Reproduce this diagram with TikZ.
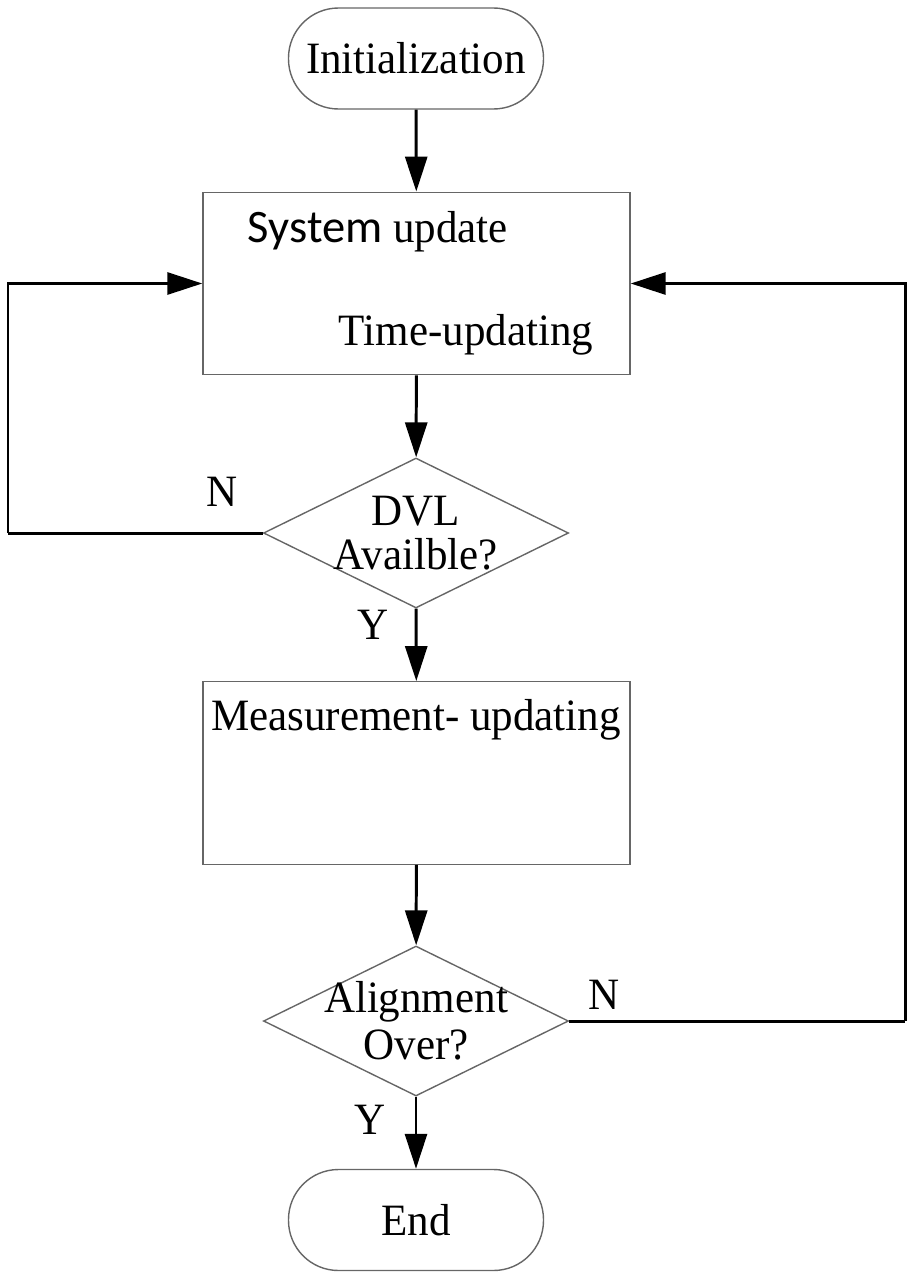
\documentclass[tikz,border=0pt]{standalone}
\usepackage{fontspec}
\setmainfont{Liberation Serif}[FakeStretch = 0.96]
\newfontfamily\sysfont{Carlito}
\usetikzlibrary{shapes.geometric, arrows.meta}

\begin{document}
\begin{tikzpicture}[
	font = \fontsize{25.5}{30}\selectfont,
	terminal/.style = {draw = black!60, line width = 0.8pt, rounded corners = 1cm, minimum width = 5.1cm, minimum height = 2.02cm},
	process/.style = {draw = black!60, line width = 0.8pt, minimum width = 8.54cm, minimum height = 3.65cm},
	decision/.style = {draw = black!60, line width = 0.8pt, diamond, inner sep = 0pt, minimum width = 6.1cm, minimum height = 3cm},
	arrow/.style = {line width = 1.7pt, -{Triangle[length=0.7cm, width=0.44cm]}},
	loop/.style = {line width = 1.7pt},
	answer/.style = {inner sep = 0pt}
]

	% Frame

	\useasboundingbox (0, 0) rectangle (18.28, -25.6);

	% Boxes

	\node [terminal] (init) at (8.32, -1.17) {Initialization};
	\node [process] (sys) at (8.33, -5.67) {};
	\node [decision] (dvl) at (8.32, -10.66) {};
	\node [process] (meas) at (8.33, -15.46) {};
	\node [decision] (align) at (8.32, -20.42) {};
	\node [terminal] (end) at (8.32, -24.4) {End};

	% Texts

	\node (systext) at (7.56, -4.64) {{\sysfont\fontsize{26.5}{30}\selectfont System} update};
	\node (timetext) at (9.32, -6.7) {Time-updating};
	\node [align = center] (dvltext) at (dvl) {DVL\\[-0.16cm]Availble?};
	\node (meastext) at (8.32, -14.4) {Measurement- updating};
	\node [align = center] (aligntext) at (align) {Alignment\\[-0.12cm]Over?};

	% Answers

	\node [answer] (dvln) at (4.44, -9.84) {N};
	\node [answer] (dvly) at (7.46, -12.5) {Y};
	\node [answer] (alignn) at (12.08, -19.9) {N};
	\node [answer] (aligny) at (7.4, -22.4) {Y};

	% Arrows

	\draw [arrow] (init) -- (sys);
	\draw [arrow] (sys) -- (dvl);
	\draw [arrow] (dvl) -- (meas);
	\draw [arrow] (meas) -- (align);
	\draw [arrow] (align) -- (end);

	% Loops

	\coordinate (leftturn) at (0.16, -10.66);
	\coordinate (rightturn) at (18.1, -20.42);

	\draw [loop] (dvl.west) -- (leftturn);
	\draw [arrow] (leftturn) |- (sys.west);
	\draw [loop] (align.east) -- (rightturn);
	\draw [arrow] (rightturn) |- (sys.east);

\end{tikzpicture}
\end{document}
